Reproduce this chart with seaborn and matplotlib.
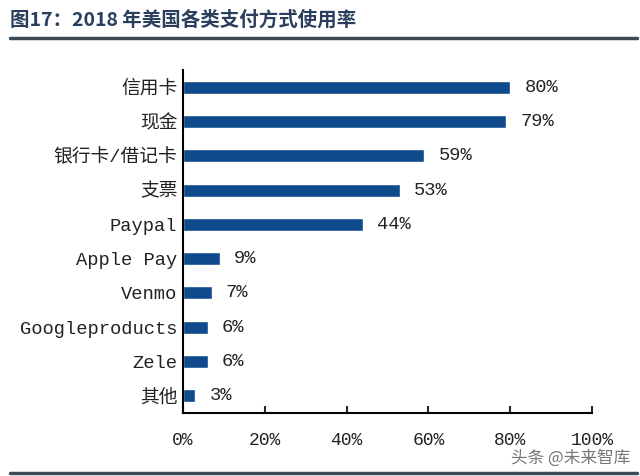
import matplotlib
matplotlib.use("Agg")
import matplotlib.pyplot as plt
import seaborn as sns
import pandas as pd

categories = ["信用卡", "现金", "银行卡/借记卡", "支票", "Paypal", "Apple Pay",
              "Venmo", "Googleproducts", "Zele", "其他"]
values = [80, 79, 59, 53, 44, 9, 7, 6, 6, 3]
xticks = [0, 20, 40, 60, 80, 100]
xticklabels = ["0%", "20%", "40%", "60%", "80%", "100%"]
title = "图17：2018 年美国各类支付方式使用率"
watermark = "头条 @未来智库"

sns.set_theme(style="white")
plt.rcParams['font.family'] = ['Liberation Mono', 'Noto Sans CJK SC', 'DejaVu Sans']

df = pd.DataFrame({"cat": categories, "val": values})

fig = plt.figure(figsize=(6.4, 4.76), dpi=100)
ax = fig.add_axes([183/640, 1-413/476, (592-183)/640, (413-70)/476])
sns.barplot(data=df, y="cat", x="val", orient="h", color="#0f4a8c",
            width=0.38, ax=ax, saturation=1)
ax.set_xlim(0, 100)
ax.set_ylim(9.5, -0.5)
ax.set_xticks(xticks)
ax.set_xticklabels(xticklabels, fontsize=13, color="#222222")
ax.tick_params(axis="x", direction="in", length=5, width=1.5, pad=14, bottom=True)
ax.tick_params(axis="y", length=0, pad=4)
for lab in ax.get_yticklabels():
    lab.set_fontsize(13.5)
    lab.set_color("#222222")
ax.set_xlabel("")
ax.set_ylabel("")
for s in ["top", "right"]:
    ax.spines[s].set_visible(False)
for s in ["left", "bottom"]:
    ax.spines[s].set_color("#000000")
    ax.spines[s].set_linewidth(1.5)

for i, v in enumerate(values):
    ax.text(v + 3.5, i, f"{v}%", va="center", ha="left", fontsize=13.5, color="#222222")

fig.text(10/640, 1-20/476, title, fontsize=14, fontweight="bold", color="#2a3f5e",
         va="center", ha="left", family=['Noto Sans CJK SC', 'DejaVu Sans'])
fig.add_artist(plt.Line2D([10/640, 637/640], [1-38/476, 1-38/476], color="#3d4b57", lw=2.5))
fig.add_artist(plt.Line2D([10/640, 637/640], [1-473/476, 1-473/476], color="#3d4b57", lw=2.5))
fig.text(630/640, 1-458/476, watermark, fontsize=12, color="#555555", alpha=0.8,
         va="center", ha="right", family=['Noto Sans CJK SC', 'DejaVu Sans'])

fig.savefig("out.png", dpi=100)
